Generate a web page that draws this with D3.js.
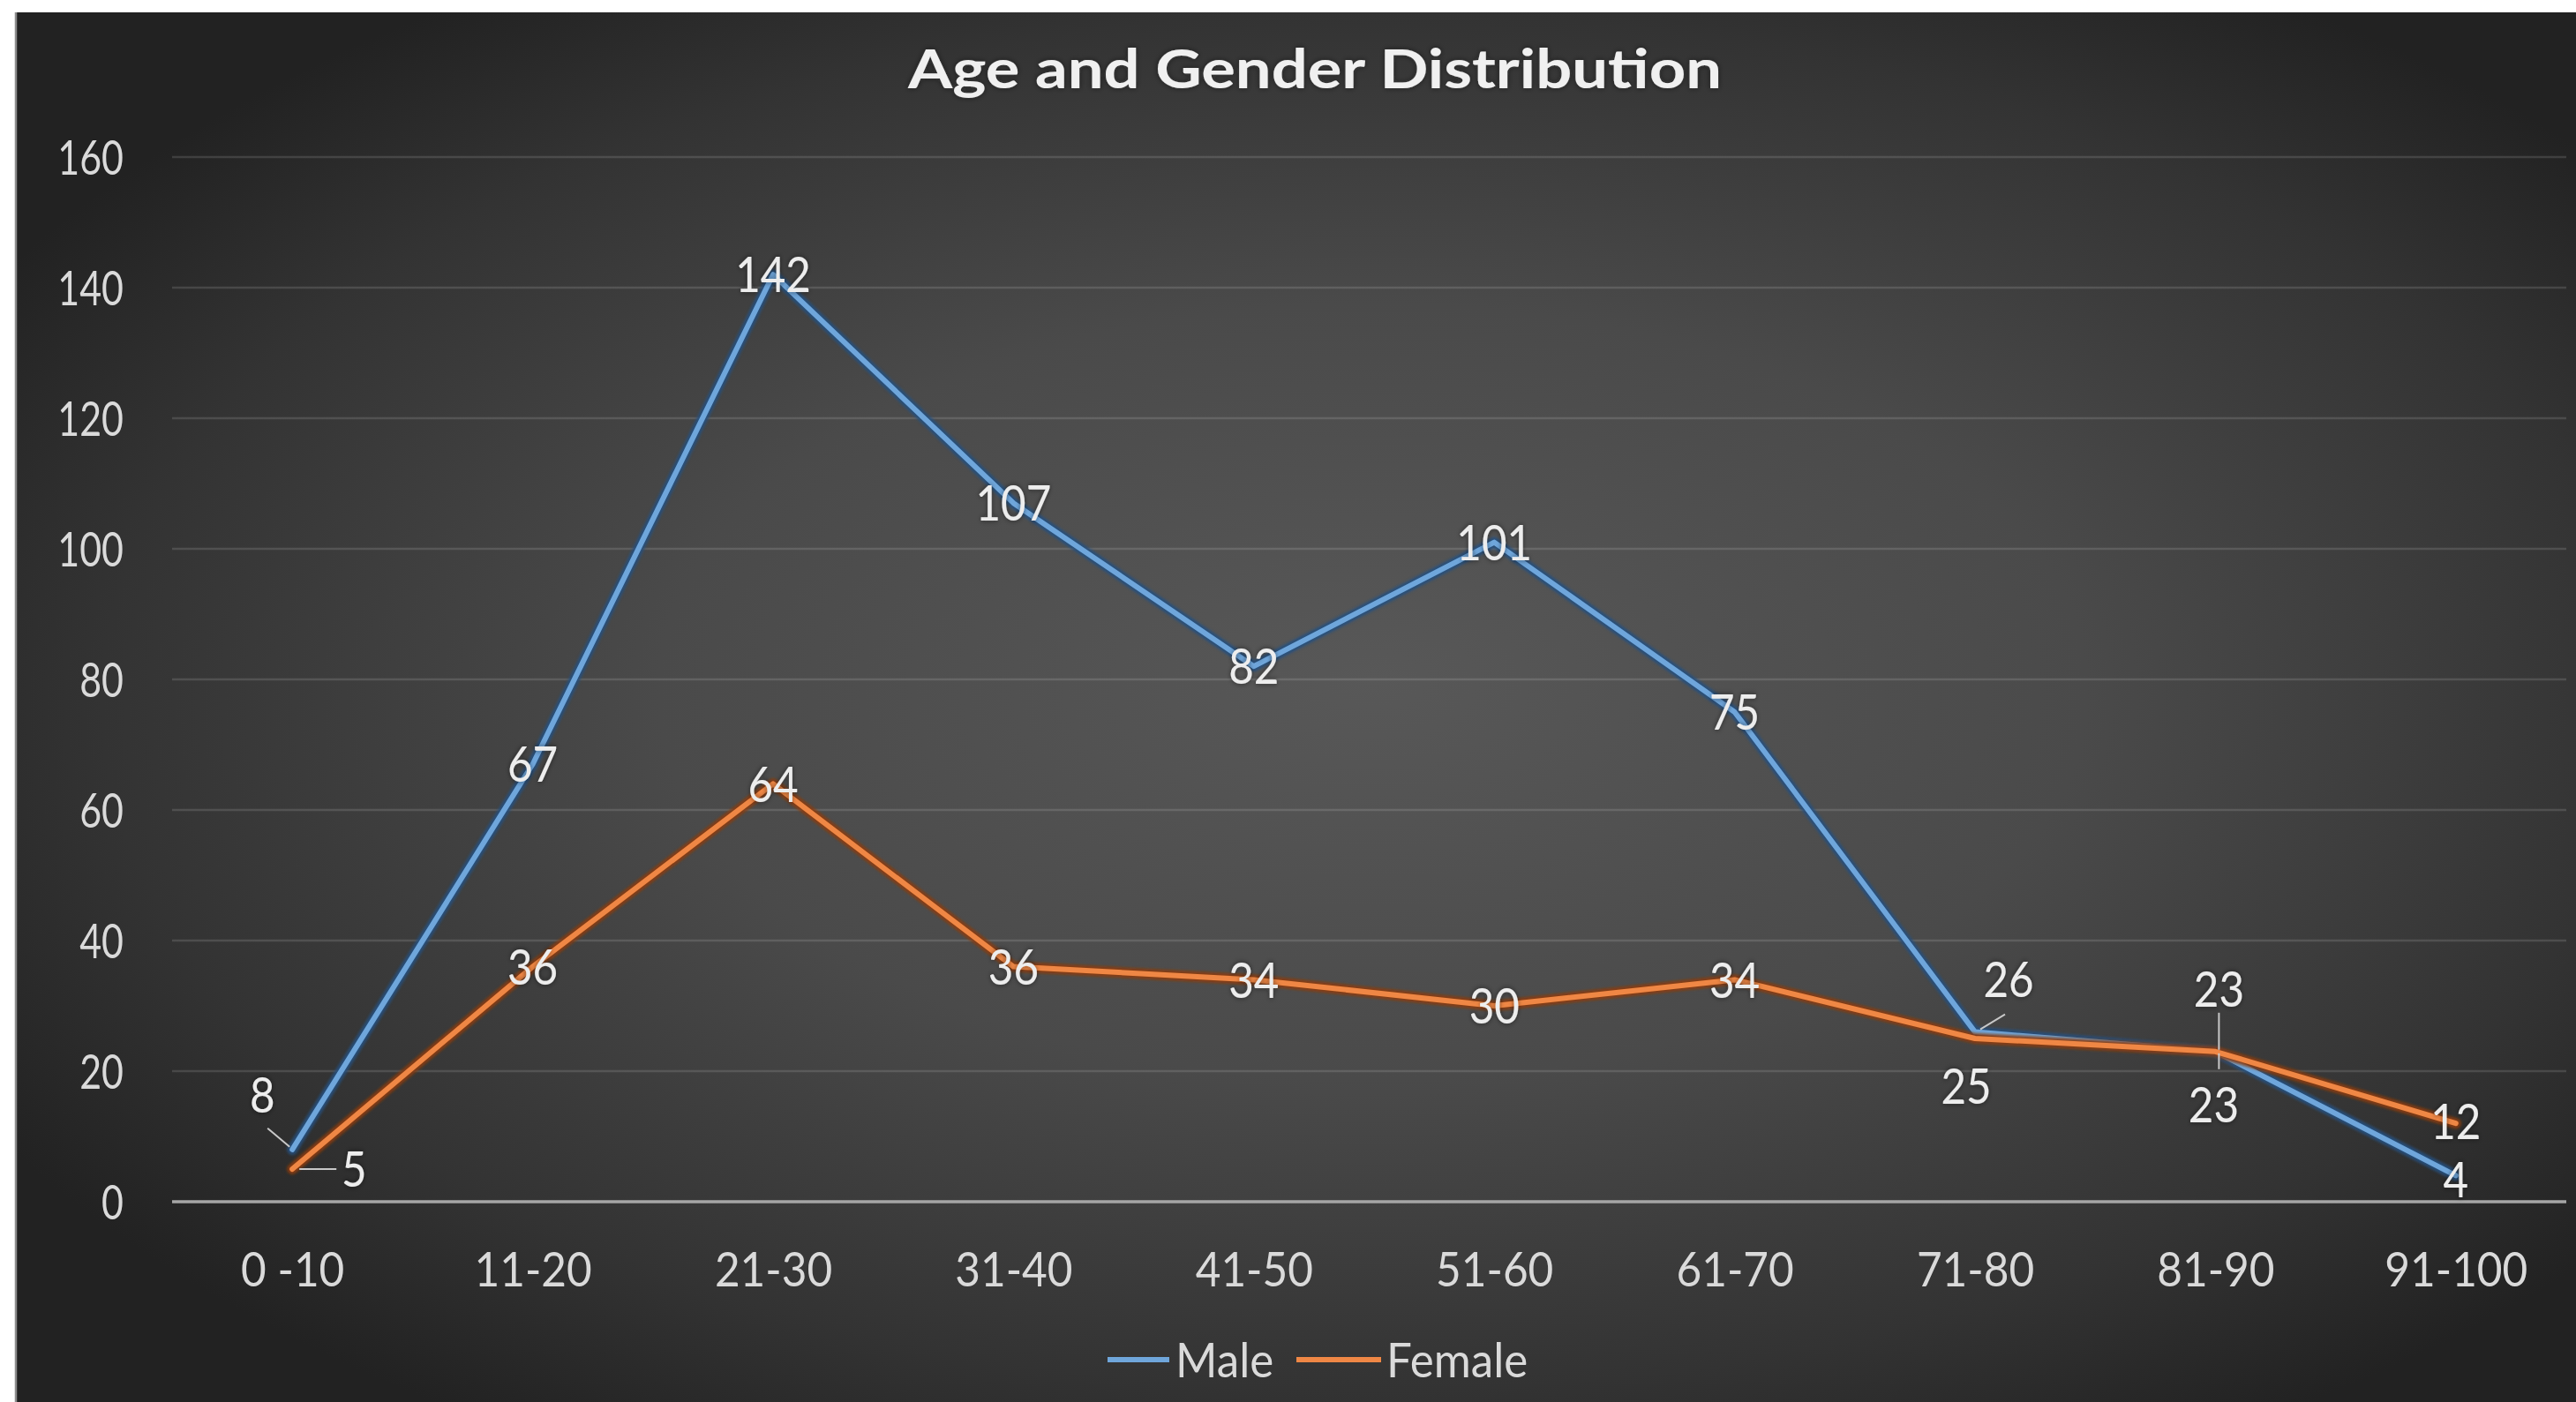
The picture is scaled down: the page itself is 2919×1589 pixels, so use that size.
<!DOCTYPE html>
<html>
<head>
<meta charset="utf-8">
<title>Age and Gender Distribution</title>
<script src="https://cdn.jsdelivr.net/npm/d3@7"></script>
<style>
  html, body { margin: 0; padding: 0; background: #ffffff; }
  svg { display: block; }
</style>
</head>
<body>
<svg id="chart"></svg>
<script>
// ---- data ----
const ageGroups = ["0 -10", "11-20", "21-30", "31-40", "41-50", "51-60", "61-70", "71-80", "81-90", "91-100"];
const maleCounts = [8, 67, 142, 107, 82, 101, 75, 26, 23, 4];
const femaleCounts = [5, 36, 64, 36, 34, 30, 34, 25, 23, 12];
const yTickValues = [0, 20, 40, 60, 80, 100, 120, 140, 160];
const seriesNames = ["Male", "Female"];
const chartTitle = "Age and Gender Distribution";

// ---- layout ----
const W = 2919, H = 1589;
const frame = { x: 17, y: 14 };
const plot = { left: 195, right: 2919, top: 178, bottom: 1362, gridEnd: 2908 };
const FONT = "Lato, 'Open Sans', 'DejaVu Sans', sans-serif";

const series = [
  { name: seriesNames[0], values: maleCounts, light: "#6fa6db", dark: "#25507e" },
  { name: seriesNames[1], values: femaleCounts, light: "#ef8745", dark: "#8a3a0a" }
];

// hand-placed data labels (pixel offsets from the point) and their leader lines
const labelNudges = {
  "Male-0":   { dx: -34, dy: -62, leader: [[-3, -3], [-28, -24]] },
  "Female-0": { dx: 70,  dy: 0,   leader: [[8, 0], [50, 0]] },
  "Male-7":   { dx: 38,  dy: -60, leader: [[6, -3], [34, -20]] },
  "Female-7": { dx: -10, dy: 54 },
  "Male-8":   { dx: 4,   dy: -71, leader: [[4, -44], [4, -2]] },
  "Female-8": { dx: -2,  dy: 60,  leader: [[4, 2], [4, 20]] },
  "Male-9":   { dx: 0,   dy: 4 },
  "Female-9": { dx: 0,   dy: -2 }
};

const svg = d3.select("#chart").attr("width", W).attr("height", H);
const defs = svg.append("defs");

const bg = defs.append("radialGradient")
  .attr("id", "bgGrad")
  .attr("cx", 0.53).attr("cy", 0.5).attr("r", 0.62)
  .attr("fx", 0.53).attr("fy", 0.48);
bg.append("stop").attr("offset", 0).attr("stop-color", "#585858");
bg.append("stop").attr("offset", 0.45).attr("stop-color", "#4a4a4a");
bg.append("stop").attr("offset", 0.8).attr("stop-color", "#333333");
bg.append("stop").attr("offset", 1).attr("stop-color", "#222222");

const soft = defs.append("filter").attr("id", "soft")
  .attr("x", "-5%").attr("y", "-5%").attr("width", "110%").attr("height", "110%");
soft.append("feGaussianBlur").attr("stdDeviation", 1.4);

const glow = defs.append("filter").attr("id", "textGlow")
  .attr("x", "-20%").attr("y", "-20%").attr("width", "140%").attr("height", "140%");
glow.append("feGaussianBlur").attr("in", "SourceAlpha").attr("stdDeviation", 3).attr("result", "b");
glow.append("feFlood").attr("flood-color", "#1a1a1a").attr("flood-opacity", 0.55);
glow.append("feComposite").attr("in2", "b").attr("operator", "in").attr("result", "s");
const gm = glow.append("feMerge");
gm.append("feMergeNode").attr("in", "s");
gm.append("feMergeNode").attr("in", "SourceGraphic");

// background panel
svg.append("rect")
  .attr("x", frame.x).attr("y", frame.y)
  .attr("width", W - frame.x).attr("height", H - frame.y)
  .attr("fill", "url(#bgGrad)");
svg.append("line")
  .attr("x1", frame.x + 1).attr("x2", frame.x + 1)
  .attr("y1", frame.y).attr("y2", H)
  .attr("stroke", "#8c8c8c").attr("stroke-width", 2.5);

// ---- scales ----
const x = d3.scalePoint().domain(ageGroups).range([plot.left, plot.right]).padding(0.5);
const y = d3.scaleLinear().domain([0, 160]).range([plot.bottom, plot.top]);

// gridlines
svg.append("g").selectAll("line")
  .data(yTickValues.filter(v => v !== 0))
  .join("line")
  .attr("x1", plot.left).attr("x2", plot.gridEnd)
  .attr("y1", d => y(d)).attr("y2", d => y(d))
  .attr("stroke", "#ffffff").attr("stroke-opacity", 0.13).attr("stroke-width", 2.5);

// y axis labels
const yAxis = svg.append("g")
  .attr("transform", `translate(${plot.left},0)`)
  .call(d3.axisLeft(y).tickValues(yTickValues).tickSize(0).tickFormat(d3.format("d")));
yAxis.select(".domain").remove();
yAxis.selectAll("text")
  .attr("x", null).attr("dy", "0.36em")
  .attr("transform", "translate(-55,0) scale(0.78,1)")
  .attr("text-anchor", "end")
  .attr("fill", "#dadada")
  .style("font-family", FONT).style("font-size", "55px");

// x axis (baseline + category labels)
const xAxis = svg.append("g")
  .attr("transform", `translate(0,${plot.bottom})`)
  .call(d3.axisBottom(x).tickSize(0));
xAxis.select(".domain").remove();
xAxis.append("line")
  .attr("x1", plot.left).attr("x2", plot.gridEnd)
  .attr("stroke", "#a6a6a6").attr("stroke-width", 3.5);
xAxis.selectAll(".tick text")
  .attr("y", null).attr("dy", "0.36em")
  .attr("transform", "translate(0,76) scale(0.9,1)")
  .attr("fill", "#dadada")
  .style("font-family", FONT).style("font-size", "55px");

// title
svg.append("text")
  .attr("x", 1490).attr("y", 100)
  .attr("text-anchor", "middle")
  .attr("textLength", 922).attr("lengthAdjust", "spacingAndGlyphs")
  .attr("fill", "#f0f0f0")
  .style("font-family", FONT).style("font-weight", 700).style("font-size", "62px")
  .attr("filter", "url(#textGlow)")
  .text(chartTitle);

// ---- lines ----
const line = d3.line().x((d, i) => x(ageGroups[i])).y(d => y(d));
const lineLayer = svg.append("g");
series.forEach(s => {
  const g = lineLayer.append("g");
  g.append("path").datum(s.values)
    .attr("d", line).attr("fill", "none")
    .attr("stroke", s.dark).attr("stroke-width", 12)
    .attr("stroke-linejoin", "round").attr("stroke-linecap", "round")
    .attr("stroke-opacity", 0.9).attr("filter", "url(#soft)");
  g.append("path").datum(s.values)
    .attr("d", line).attr("fill", "none")
    .attr("stroke", s.light).attr("stroke-width", 6)
    .attr("stroke-linejoin", "round").attr("stroke-linecap", "round");
});

// ---- data labels ----
const labelLayer = svg.append("g");
series.forEach(s => {
  s.values.forEach((v, i) => {
    const px = x(ageGroups[i]), py = y(v);
    const nudge = labelNudges[`${s.name}-${i}`] || { dx: 0, dy: 0 };
    if (nudge.leader) {
      labelLayer.append("line")
        .attr("x1", px + nudge.leader[0][0]).attr("y1", py + nudge.leader[0][1])
        .attr("x2", px + nudge.leader[1][0]).attr("y2", py + nudge.leader[1][1])
        .attr("stroke", "#c8c8c8").attr("stroke-width", 2);
    }
    labelLayer.append("text")
      .attr("transform", `translate(${px + nudge.dx},${py + nudge.dy}) scale(0.88,1)`)
      .attr("text-anchor", "middle").attr("dy", "0.36em")
      .attr("fill", "#ededed")
      .attr("filter", "url(#textGlow)")
      .style("font-family", FONT).style("font-size", "56px")
      .text(v);
  });
});

// ---- legend ----
const legendItems = [
  { name: seriesNames[0], sx: 1255, ex: 1325, tx: 1332, color: series[0] },
  { name: seriesNames[1], sx: 1469, ex: 1565, tx: 1571, color: series[1] }
];
const legendY = 1541;
const legend = svg.append("g");
legendItems.forEach(it => {
  legend.append("line")
    .attr("x1", it.sx).attr("x2", it.ex).attr("y1", legendY).attr("y2", legendY)
    .attr("stroke", it.color.dark).attr("stroke-width", 12).attr("filter", "url(#soft)");
  legend.append("line")
    .attr("x1", it.sx).attr("x2", it.ex).attr("y1", legendY).attr("y2", legendY)
    .attr("stroke", it.color.light).attr("stroke-width", 6);
  legend.append("text")
    .attr("transform", `translate(${it.tx},${legendY}) scale(0.93,1)`)
    .attr("dy", "0.36em")
    .attr("fill", "#dadada")
    .style("font-family", FONT).style("font-size", "55px")
    .text(it.name);
});
</script>
</body>
</html>
